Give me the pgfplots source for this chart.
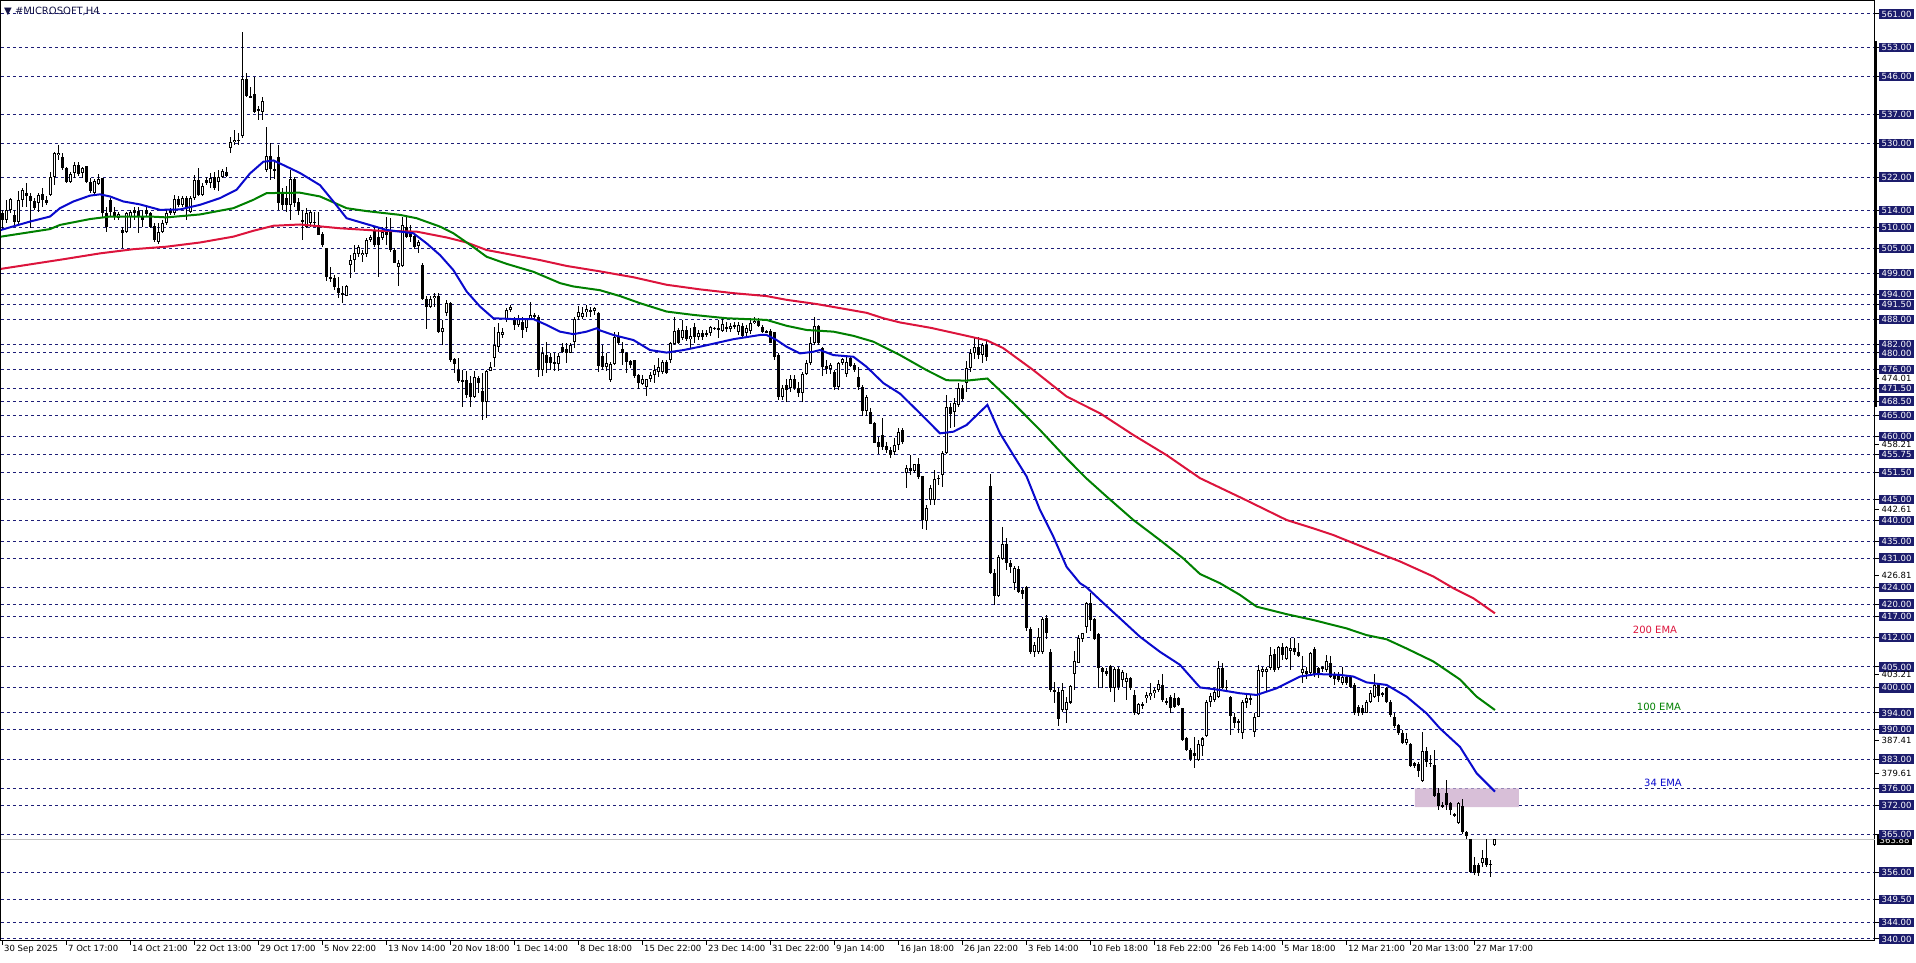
\documentclass[border=0pt]{standalone}
\usepackage{fontspec}
\setmainfont{DejaVu Sans}
\usepackage{pgfplots}
\pgfplotsset{compat=1.18}
\usepackage{pgfplotstable}
\definecolor{gridnavy}{RGB}{30,30,120}
\definecolor{boxnavy}{RGB}{28,28,108}
\definecolor{emablue}{RGB}{10,10,205}
\definecolor{emagreen}{RGB}{0,128,0}
\definecolor{emared}{RGB}{220,20,60}
\definecolor{zone}{RGB}{216,191,216}
\definecolor{bidgray}{RGB}{192,192,192}
\newcommand{\tlf}{\fontsize{8.5}{10}\selectfont}

\pgfplotstableread{
i o h l c
0 513.5 514.2 509.4 511.8
1 511.8 516.6 511.0 514.2
2 514.2 517.0 513.5 516.8
3 513.0 514.2 510.6 511.4
4 511.4 518.6 510.6 516.6
5 516.6 519.4 515.0 519.0
6 518.2 520.6 515.0 517.4
7 517.4 518.2 509.8 516.2
8 516.2 517.0 514.2 514.6
9 515.9 518.2 513.8 517.8
10 518.0 519.4 515.0 516.6
11 516.6 517.4 515.4 515.8
12 517.8 523.3 517.4 522.1
13 522.1 528.1 520.2 527.7
14 527.3 529.7 526.1 527.9
15 526.8 527.7 523.7 524.1
16 524.1 524.5 520.6 520.9
17 520.9 523.3 520.6 522.8
18 522.9 525.7 521.7 524.8
19 524.9 525.7 522.3 522.8
20 522.9 524.5 521.7 524.1
21 524.7 524.7 520.6 520.8
22 520.9 521.7 518.2 518.6
23 518.2 521.5 517.8 521.2
24 520.4 522.8 520.2 521.5
25 521.7 521.7 512.6 513.4
26 513.5 515.0 509.0 510.2
27 516.6 517.0 512.6 513.8
28 513.8 515.0 511.8 512.6
29 512.2 513.8 511.8 513.2
30 509.4 510.2 505.0 508.6
31 509.0 513.8 508.6 513.4
32 512.6 514.2 509.8 513.8
33 514.2 515.0 511.8 513.4
34 514.0 515.0 508.6 512.6
35 512.6 514.2 510.2 511.8
36 514.2 515.0 512.6 513.2
37 513.4 513.8 509.8 510.2
38 510.4 511.0 506.6 507.0
39 506.6 511.0 506.0 508.8
40 509.0 511.8 508.6 511.0
41 511.0 514.2 510.6 513.4
42 514.2 514.6 513.0 513.4
43 513.4 517.8 513.0 516.7
44 516.7 517.4 515.0 515.4
45 515.4 517.4 515.0 517.0
46 517.0 517.4 511.8 515.0
47 513.8 517.4 513.4 517.0
48 517.0 522.5 516.6 521.3
49 521.3 524.1 517.5 517.8
50 517.8 520.6 517.4 519.8
51 521.3 522.1 520.2 520.6
52 520.6 522.9 519.4 521.7
53 522.0 523.3 519.0 519.4
54 520.9 523.7 518.6 522.1
55 522.1 524.0 521.7 523.6
56 523.3 524.5 522.1 522.3
57 528.9 531.7 527.7 530.5
58 530.3 533.3 529.7 530.9
59 530.8 532.5 529.7 530.9
60 531.9 556.8 531.3 545.4
61 545.4 546.8 541.2 541.4
62 541.4 543.6 540.9 541.1
63 542.0 546.0 537.3 537.7
64 538.2 538.9 535.7 537.9
65 537.7 541.2 535.7 540.2
66 523.7 533.9 523.3 527.1
67 527.1 530.3 521.3 524.0
68 524.0 526.0 521.5 523.5
69 526.9 529.7 514.2 515.8
70 518.2 519.4 514.2 515.4
71 517.0 520.0 513.8 515.4
72 515.4 523.7 511.8 521.5
73 521.5 522.0 515.0 515.8
74 516.0 517.0 513.0 514.0
75 511.9 514.2 507.0 511.4
76 510.2 514.6 509.8 513.4
77 511.0 514.2 510.2 513.8
78 511.4 513.8 510.2 511.0
79 510.6 513.8 508.2 508.2
80 508.4 508.8 505.4 505.8
81 505.0 505.0 497.3 498.1
82 498.2 500.6 497.0 497.6
83 497.8 498.6 495.1 495.7
84 495.5 498.2 493.1 494.3
85 494.4 495.9 492.0 493.9
86 493.6 496.3 493.5 496.0
87 501.0 503.4 497.8 502.2
88 502.2 505.8 499.4 503.8
89 503.7 505.8 503.0 505.3
90 503.4 504.6 501.8 504.0
91 503.6 507.4 503.0 507.0
92 507.0 508.2 506.6 507.8
93 509.2 510.2 505.4 505.8
94 507.8 510.2 498.1 505.8
95 507.4 510.2 507.0 509.0
96 509.0 512.6 505.8 508.2
97 508.8 512.2 504.2 504.5
98 504.6 505.0 501.4 501.6
99 500.5 502.2 495.9 501.6
100 500.8 512.6 500.6 510.6
101 510.2 512.6 507.4 507.8
102 509.0 510.6 506.6 507.8
103 508.0 508.2 504.8 505.3
104 505.6 507.0 503.8 506.6
105 501.0 501.4 492.7 492.8
106 492.8 493.5 485.7 491.1
107 491.1 493.5 490.7 492.8
108 493.1 494.3 491.1 493.6
109 493.6 494.3 484.7 484.9
110 485.1 487.9 481.9 485.9
111 489.6 492.7 488.9 491.9
112 492.0 492.3 477.9 478.3
113 478.5 478.7 475.2 477.4
114 475.9 478.7 472.9 473.2
115 473.6 475.9 467.2 473.2
116 473.6 475.8 469.2 470.0
117 472.8 474.4 467.2 469.6
118 469.4 475.8 469.2 474.2
119 474.0 474.4 470.4 472.9
120 471.0 475.2 464.0 468.4
121 468.4 475.9 464.4 475.8
122 475.8 477.9 475.8 476.6
123 478.7 486.3 476.7 481.9
124 481.5 487.1 480.3 485.1
125 484.3 485.9 483.5 485.1
126 487.9 490.7 487.5 490.3
127 490.3 491.5 489.9 491.1
128 488.1 488.7 485.5 486.7
129 486.7 489.1 486.3 488.1
130 487.5 488.7 483.5 485.5
131 485.9 488.3 485.1 488.1
132 488.3 492.3 487.9 489.1
133 488.9 489.5 487.9 488.8
134 488.7 489.1 474.2 475.9
135 475.9 481.5 474.4 479.9
136 479.5 482.7 475.2 477.5
137 479.0 479.9 475.9 477.5
138 477.9 479.9 475.6 477.5
139 477.4 479.9 475.6 479.3
140 481.5 482.5 479.9 480.3
141 480.9 482.5 477.5 480.1
142 480.1 482.3 479.9 481.9
143 482.7 488.7 481.1 488.1
144 488.7 491.2 487.9 489.9
145 488.7 491.1 488.1 489.5
146 489.9 491.5 488.7 490.4
147 490.1 491.1 488.7 490.2
148 490.1 491.1 489.1 490.7
149 489.5 489.9 475.5 477.0
150 479.3 481.9 475.9 476.6
151 476.6 479.9 475.8 477.5
152 473.6 477.9 473.1 477.3
153 477.4 485.1 477.1 483.8
154 483.8 485.1 481.9 482.3
155 480.9 482.7 477.1 479.9
156 479.9 480.3 475.3 477.9
157 478.1 478.3 476.3 477.1
158 478.3 478.3 474.1 474.4
159 474.7 475.1 471.3 472.8
160 472.6 474.7 472.4 473.7
161 471.8 473.9 469.7 473.7
162 473.9 475.5 473.1 474.7
163 474.7 477.1 472.8 475.9
164 475.5 478.7 474.3 476.7
165 475.5 478.3 475.1 477.8
166 477.9 478.3 475.1 475.3
167 478.3 482.7 477.5 482.3
168 482.2 488.7 481.9 485.3
169 485.5 485.9 482.2 482.3
170 483.7 487.9 483.1 485.5
171 485.5 486.5 482.9 483.3
172 483.3 485.9 481.1 484.1
173 486.1 487.1 482.3 483.8
174 483.8 485.5 483.0 484.7
175 484.7 485.5 483.1 483.8
176 484.3 485.5 483.8 484.7
177 484.7 486.5 484.1 486.1
178 485.9 486.3 485.5 485.9
179 485.7 487.9 483.7 485.8
180 485.3 488.3 485.1 486.9
181 486.3 487.5 485.1 485.7
182 485.7 487.1 484.9 486.5
183 486.5 487.3 485.7 486.5
184 485.1 487.5 484.3 486.7
185 486.5 487.1 483.8 484.1
186 484.7 486.7 483.9 485.9
187 485.3 488.3 484.5 487.1
188 487.1 488.7 486.9 487.7
189 487.7 488.3 486.3 486.5
190 486.3 486.7 484.7 484.9
191 485.1 485.5 484.7 485.0
192 485.3 485.7 482.3 482.5
193 484.9 485.1 478.3 479.1
194 479.5 479.9 468.8 469.4
195 469.4 472.4 468.8 471.6
196 472.4 473.9 468.4 471.2
197 471.6 474.7 470.8 473.9
198 473.9 474.7 471.2 471.6
199 471.6 473.1 469.6 470.4
200 470.4 475.5 468.4 475.1
201 475.1 478.3 474.7 477.5
202 477.5 483.9 477.1 482.5
203 482.5 488.7 481.9 486.5
204 486.5 486.7 481.9 482.5
205 481.1 481.5 474.5 476.7
206 476.9 478.3 475.1 476.1
207 476.1 477.5 475.0 477.1
208 475.5 475.9 471.2 471.8
209 471.8 477.9 471.2 477.7
210 477.7 478.9 477.1 478.5
211 475.0 479.1 474.3 477.9
212 478.9 479.3 476.7 476.9
213 477.1 477.5 475.5 475.9
214 474.2 476.6 471.2 471.8
215 471.8 472.4 465.0 466.2
216 466.2 469.9 465.0 469.4
217 465.8 466.8 463.0 463.0
218 463.2 463.6 458.4 458.6
219 458.8 460.0 455.9 457.6
220 460.4 464.4 456.8 457.6
221 457.8 458.8 456.0 456.8
222 456.8 457.6 454.8 455.6
223 456.4 459.6 455.6 458.0
224 458.0 462.0 456.8 461.2
225 461.6 462.0 458.3 458.8
226 451.4 453.2 447.7 452.5
227 452.5 455.6 450.9 451.7
228 451.7 453.6 451.3 453.4
229 453.4 454.8 450.0 450.3
230 450.5 450.6 437.9 440.1
231 439.9 443.7 437.7 442.9
232 444.9 448.5 443.7 447.7
233 444.9 452.0 443.7 449.8
234 450.0 450.9 448.5 450.2
235 450.9 456.6 447.9 456.0
236 456.0 470.0 455.9 467.2
237 467.0 468.0 462.0 465.4
238 466.0 469.2 462.4 468.0
239 467.6 472.8 467.2 471.6
240 471.6 472.4 468.6 468.9
241 472.8 478.0 470.8 476.5
242 476.5 481.0 475.5 480.0
243 480.0 483.5 478.5 481.5
244 481.5 483.8 478.5 479.5
245 479.5 482.5 477.5 481.8
246 481.8 483.0 478.0 479.0
247 448.2 451.1 427.2 427.5
248 427.4 428.3 419.8 421.9
249 421.9 431.7 421.8 431.2
250 430.7 438.4 430.6 434.4
251 434.4 435.7 428.2 429.8
252 429.9 430.6 427.4 428.8
253 425.1 429.0 423.4 428.6
254 428.3 429.0 422.7 423.0
255 423.4 423.8 421.2 422.4
256 424.2 424.3 413.7 414.2
257 414.0 414.6 408.2 408.6
258 408.6 411.0 407.4 410.2
259 408.6 414.2 408.2 412.2
260 408.6 417.0 408.2 416.4
261 416.6 417.4 411.6 413.2
262 408.6 409.4 399.1 399.5
263 399.6 401.5 396.5 398.9
264 399.1 399.9 390.9 392.5
265 394.6 401.2 394.3 399.5
266 394.6 397.9 391.5 396.7
267 396.5 400.7 396.1 400.4
268 403.3 408.9 399.6 406.3
269 406.0 412.6 405.9 411.8
270 411.6 413.2 411.0 413.0
271 414.5 420.4 413.2 420.2
272 420.2 422.7 413.7 416.1
273 416.4 416.6 411.4 411.6
274 412.9 413.0 399.9 404.7
275 404.7 405.1 399.9 403.9
276 404.1 404.7 402.8 403.3
277 405.2 405.5 399.1 399.9
278 399.9 405.1 396.7 404.4
279 404.4 405.1 399.5 400.3
280 401.9 404.3 400.3 403.9
281 401.5 403.5 397.1 402.3
282 402.3 402.7 399.5 399.9
283 398.3 399.6 393.5 393.9
284 393.8 396.4 393.5 396.1
285 395.9 396.7 394.9 396.0
286 397.5 399.1 396.3 398.3
287 398.0 401.2 397.1 398.8
288 398.7 399.9 397.5 399.5
289 399.6 401.9 398.9 400.9
290 400.7 403.3 396.7 397.1
291 396.7 397.5 395.9 396.6
292 397.7 398.3 393.9 395.1
293 397.5 398.8 395.1 395.5
294 397.5 397.7 395.7 395.9
295 395.1 395.3 387.4 387.5
296 387.9 388.3 384.8 385.2
297 385.2 385.6 382.6 382.9
298 384.5 388.3 380.8 383.7
299 382.8 387.5 382.6 386.6
300 386.1 388.3 383.6 387.9
301 388.5 397.1 388.3 396.7
302 396.7 398.7 395.5 398.0
303 397.1 399.9 396.7 399.1
304 397.7 406.3 397.5 404.7
305 404.7 405.9 399.7 399.9
306 400.3 401.9 399.1 399.9
307 397.7 398.0 388.7 393.3
308 393.1 393.9 390.3 391.7
309 392.1 392.5 389.1 391.7
310 389.1 397.1 387.9 396.7
311 396.5 398.7 395.1 397.5
312 397.1 398.3 395.9 397.5
313 389.5 393.9 388.3 393.1
314 393.1 405.5 393.1 404.3
315 403.9 405.1 402.7 404.4
316 403.9 405.1 399.1 404.5
317 404.7 409.8 404.3 407.9
318 408.1 409.4 403.9 404.3
319 404.7 410.0 404.3 409.8
320 409.8 410.6 406.7 407.9
321 406.8 410.0 406.7 409.8
322 408.9 411.8 404.3 409.6
323 409.6 411.8 407.9 408.6
324 408.6 410.8 407.3 407.5
325 403.6 407.5 401.2 404.4
326 404.1 405.1 402.0 403.3
327 403.6 408.6 403.1 408.4
328 409.4 409.8 402.7 403.3
329 404.7 405.1 402.3 403.6
330 405.1 405.2 403.9 404.4
331 404.3 407.9 403.9 406.3
332 406.0 407.5 402.3 402.7
333 403.3 403.9 400.7 402.0
334 402.8 403.9 401.5 401.9
335 401.2 405.1 400.7 402.7
336 402.7 403.1 400.7 401.1
337 402.7 403.1 399.9 400.3
338 400.7 401.1 393.5 393.9
339 395.5 395.9 393.3 394.1
340 395.1 395.9 393.5 393.9
341 394.1 397.1 393.9 396.7
342 396.7 399.5 396.3 398.7
343 397.9 403.3 397.5 400.7
344 400.7 401.1 396.7 398.1
345 398.6 399.1 397.9 398.5
346 399.9 400.3 396.3 396.7
347 396.7 397.1 393.1 393.5
348 393.1 393.9 390.3 390.9
349 391.1 391.4 388.7 389.1
350 389.1 389.9 386.6 386.9
351 386.8 389.1 386.4 387.9
352 386.7 386.9 381.2 381.3
353 382.1 382.4 380.8 381.3
354 381.9 382.4 378.8 380.2
355 377.8 389.5 377.6 384.8
356 384.8 385.9 381.2 382.4
357 382.0 384.0 381.2 381.9
358 381.6 385.1 374.0 374.2
359 374.8 376.0 370.7 371.8
360 372.0 372.8 371.2 371.5
361 374.8 378.0 370.8 372.0
362 372.4 372.8 369.6 370.8
363 369.9 370.0 369.2 369.5
364 367.8 372.8 367.5 372.4
365 371.8 373.4 365.2 365.6
366 365.6 365.9 364.0 364.6
367 363.8 364.0 355.8 356.1
368 357.7 359.7 355.3 355.8
369 357.7 358.1 355.0 355.7
370 358.1 361.3 357.3 359.3
371 359.3 364.0 357.3 357.7
372 357.9 358.9 354.9 357.8
373 362.5 364.0 362.2 363.9
}\candles

\pgfplotstableread{
i v
-0.5 509.4
6.75 511.4
11.75 512.6
14.25 514.6
17.6 516.2
21.75 517.6
24.25 517.9
26.75 517.4
30.1 516.2
34.25 515.5
39.25 514.2
44.25 514.3
49.25 515.4
54.25 517.0
58.4 519.0
61.75 522.9
65.1 525.7
67.6 526.0
70.1 524.9
74.25 523.0
79.25 520.1
82.6 516.2
85.9 512.2
90.9 510.8
95.9 509.4
99.25 509.0
102.6 508.6
105.9 506.2
109.25 503.4
112.6 499.8
115.9 494.7
119.25 491.1
122.6 488.3
127.6 488.1
132.6 488.1
135.9 486.7
139.25 485.1
142.6 484.5
145.9 485.1
148.4 485.9
149.25 485.4
152.6 484.3
157.6 483.1
161.75 480.7
165.9 480.1
170.1 480.7
174.25 481.5
182.6 483.3
189.25 484.3
190.9 484.3
193.4 483.1
195.9 481.5
199.25 479.9
202.6 480.3
204.25 480.7
207.6 479.5
212.6 479.1
215.9 476.7
220.1 472.8
224.25 470.3
229.25 465.6
234.25 460.8
237.6 461.2
240.9 462.8
246.1 467.6
249.25 460.8
252.6 455.6
255.9 450.5
259.25 442.5
262.6 436.1
265.9 428.9
269.25 425.0
270.9 424.0
274.25 421.0
279.25 416.6
284.25 412.2
289.25 408.6
294.25 405.5
299.25 400.1
304.25 399.5
309.25 398.7
313.4 398.3
318.4 399.9
324.25 402.7
328.4 403.3
334.25 403.1
337.6 402.7
340.9 401.3
345.9 400.7
350.9 397.9
355.9 393.9
359.25 390.3
364.25 385.9
368.4 379.6
373.0 375.2
}\emaA

\pgfplotstableread{
i v
-0.5 507.8
11.75 509.6
14.25 510.6
21.75 512.0
26.75 512.6
36.75 512.6
40.9 512.4
49.25 513.1
57.6 514.6
62.6 516.6
65.9 518.2
74.25 518.3
79.25 517.4
85.9 514.6
90.9 513.9
99.25 513.0
103.4 512.2
109.25 510.2
112.6 508.6
117.6 505.3
120.9 503.0
125.9 501.3
132.6 499.4
139.25 496.7
142.6 495.9
149.25 495.0
154.25 493.6
159.25 491.9
165.9 489.9
172.6 489.1
180.9 488.3
190.9 487.9
195.9 486.5
200.9 485.5
207.6 485.1
212.6 484.1
217.6 482.7
224.25 479.5
230.9 475.9
235.9 473.5
240.9 473.4
246.1 473.9
252.6 468.0
259.25 461.6
265.9 454.8
270.9 450.0
275.9 445.7
282.6 440.1
289.25 435.3
295.1 430.9
299.25 427.2
304.25 425.0
309.25 422.2
313.4 419.4
320.9 417.6
327.6 416.2
335.9 414.2
340.9 412.6
345.9 411.6
350.9 409.4
357.6 406.3
364.25 402.0
368.4 397.9
373.0 394.7
}\emaB

\pgfplotstableread{
i v
-0.5 500.1
15.1 502.4
24.25 503.8
32.6 504.8
40.9 505.4
49.25 506.4
57.6 507.8
62.6 509.2
67.6 510.4
74.25 510.7
84.25 509.8
94.25 509.2
103.4 509.0
110.9 507.6
115.9 506.4
120.9 504.6
127.6 503.4
134.25 502.2
140.9 500.8
149.25 499.5
157.6 498.1
165.9 496.3
174.25 495.2
182.6 494.3
190.9 493.6
195.9 492.7
203.4 491.7
211.75 490.3
215.9 489.6
220.1 488.3
224.25 487.3
232 486.0
240 484.3
246 483.0
250 481.2
257.6 475.9
265.9 469.6
274.25 465.6
282.6 460.4
290.9 455.6
299.25 450.1
310 445.2
320.9 440.1
327.6 438.1
332.6 436.5
340.9 433.3
349.25 430.2
357.6 426.6
362.6 423.8
367.6 421.4
373.0 417.8
}\emaC

\begin{document}
\begin{tikzpicture}
\useasboundingbox (0pt,0pt) rectangle (1916pt,963pt);
\node[fill=black,text=white,anchor=west,inner xsep=2.5pt,inner ysep=1.5pt,font=\tlf] at (1877pt,123pt) {363.88};
\begin{axis}[
  at={(1pt,22pt)}, anchor=south west,
  width=1874pt, height=940pt, scale only axis,
  xmin=-0.5, xmax=468, ymin=339.52, ymax=564.1,
  axis line style={black, line width=1pt},
  tick align=outside, major tick length=4pt,
  tick style={black, line width=1pt},
  xtick pos=bottom, ytick pos=right, yticklabel pos=right,
  xtick={0,16,...,368},
  xticklabels={30 Sep 2025,7 Oct 17:00,14 Oct 21:00,22 Oct 13:00,29 Oct 17:00,5 Nov 22:00,13 Nov 14:00,20 Nov 18:00,1 Dec 14:00,8 Dec 18:00,15 Dec 22:00,23 Dec 14:00,31 Dec 22:00,9 Jan 14:00,16 Jan 18:00,26 Jan 22:00,3 Feb 14:00,10 Feb 18:00,18 Feb 22:00,26 Feb 14:00,5 Mar 18:00,12 Mar 21:00,20 Mar 13:00,27 Mar 17:00},
  xticklabel style={anchor=north west, inner xsep=1pt, inner ysep=0pt, font=\tlf},
  ytick={561,553,546,537,530,522,514,510,505,499,494,491.5,488,482,480,476,471.5,468.5,465,460,455.75,451.5,445,440,435,431,424,420,417,412,405,400,394,390,383,376,372,365,356,349.5,344,340},
  yticklabel={\pgfmathprintnumber[fixed,fixed zerofill,precision=2,assume math mode=true]{\tick}},
  yticklabel style={anchor=west, fill=boxnavy, text=white, inner xsep=2.5pt, inner ysep=1.5pt, font=\tlf},
  ymajorgrids,
  grid style={gridnavy, line width=1pt, dash pattern=on 3pt off 3pt},
  extra y ticks={474.01,458.21,442.61,426.81,403.21,387.41,379.61},
  extra y tick labels={474.01,458.21,442.61,426.81,403.21,387.41,379.61},
  extra y tick style={grid=none, yticklabel style={fill=none, text=black}},
]
% supply/resistance zone
\addplot[fill=zone, draw=none, forget plot] coordinates {(353,371.5) (379,371.5) (379,376) (353,376) (353,371.5)};
% bid line
\addplot[bidgray, line width=1pt, forget plot] coordinates {(-0.5,363.88) (468,363.88)};
% wicks
\addplot[draw=none, mark=none, forget plot, error bars/.cd, y dir=both, y explicit, error mark=none,
  error bar style={draw=black, line width=1pt, solid}]
  table[x=i, y expr={(\thisrow{h}+\thisrow{l})/2}, y error expr={(\thisrow{h}-\thisrow{l})/2}]{\candles};
% bodies
\addplot[draw=none, mark=none, forget plot, error bars/.cd, y dir=both, y explicit, error mark=none,
  error bar style={draw=black, line width=3pt, solid}]
  table[x=i, y expr={(\thisrow{o}+\thisrow{c})/2}, y error expr={max(abs(\thisrow{o}-\thisrow{c})/2,0.12)}]{\candles};
% hollow (bull) bodies
\addplot[draw=none, mark=none, forget plot, error bars/.cd, y dir=both, y explicit, error mark=none,
  error bar style={draw=white, line width=1pt, solid}]
  table[x=i, y expr={(\thisrow{o}+\thisrow{c})/2}, y error expr={max((\thisrow{c}-\thisrow{o})/2-0.24,0)}]{\candles};
% EMAs
\addplot[emared, line width=2pt, mark=none] table[x=i,y=v]{\emaC};
\addplot[emagreen, line width=2pt, mark=none] table[x=i,y=v]{\emaB};
\addplot[emablue, line width=2pt, mark=none] table[x=i,y=v]{\emaA};
\node[text=emared, font=\fontsize{10}{12}\selectfont] at (axis cs:413,413.8) {200 EMA};
\node[text=emagreen, font=\fontsize{10}{12}\selectfont] at (axis cs:414,395.4) {100 EMA};
\node[text=emablue, font=\fontsize{10}{12}\selectfont] at (axis cs:415,377.3) {34 EMA};
\end{axis}
\draw[line width=3pt] (1875pt,922pt) -- (1875pt,556pt);
\node[anchor=west, font=\fontsize{10}{11}\selectfont, text={rgb,255:red,20;green,20;blue,70}, inner sep=0pt] at (4pt,952pt) {▼ \#MICROSOFT,H4};
\end{tikzpicture}
\end{document}
